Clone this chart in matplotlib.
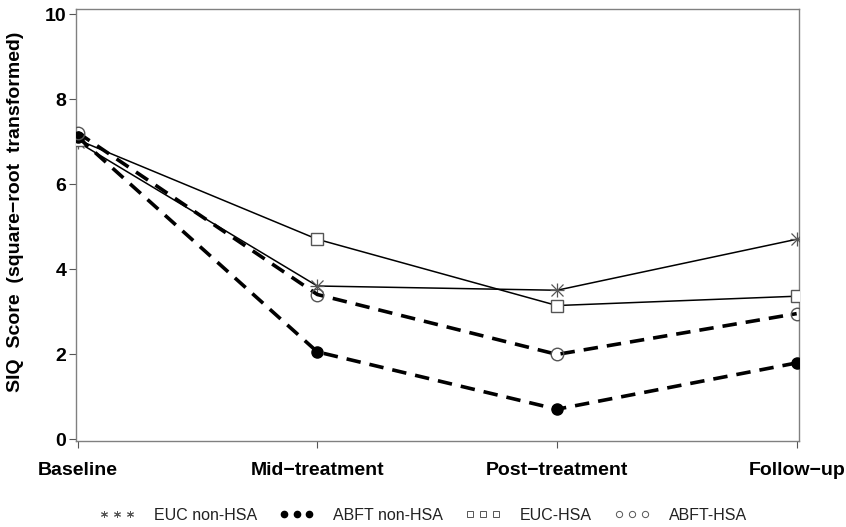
import matplotlib
matplotlib.use('Agg')
import matplotlib.pyplot as plt
from matplotlib.lines import Line2D

# data
timepoints = ['Baseline', 'Mid\u2212treatment', 'Post\u2212treatment', 'Follow\u2212up']
euc_non_hsa = [7.00, 3.61, 3.51, 4.71]
abft_non_hsa = [7.12, 2.06, 0.71, 1.80]
euc_hsa = [7.05, 4.71, 3.15, 3.37]
abft_hsa = [7.22, 3.41, 2.00, 2.96]
yticks = [0, 2, 4, 6, 8, 10]

plt.rcParams['font.family'] = ['Liberation Sans', 'DejaVu Sans']

fig = plt.figure(figsize=(8.46, 5.27), dpi=100)
ax = fig.add_axes([0.0898, 0.163, 0.855, 0.820])

x = range(len(timepoints))
grey = '#555555'

ax.plot(x, euc_non_hsa, '-', color='black', lw=1.1, marker='x', ms=8,
        mec=grey, mew=0.9, zorder=3)
ax.plot(x, euc_non_hsa, linestyle='none', marker='+', ms=10, mec=grey, mew=0.9, zorder=3)
ax.plot(x, euc_hsa, '-', color='black', lw=1.1, marker='s', ms=9,
        mfc='white', mec=grey, mew=1.0, zorder=3)
ax.plot(x, abft_non_hsa, color='black', lw=2.6, linestyle=(0, (4, 2.5)),
        marker='o', ms=8, mfc='black', mec='black', zorder=4)
ax.plot(x, abft_hsa, color='black', lw=2.6, linestyle=(0, (4, 2.5)),
        marker='o', ms=9, mfc='none', mec=grey, mew=1.0, zorder=4)

ax.set_xlim(-0.007, 3.011)
ax.set_ylim(-0.04, 10.13)
ax.set_xticks(list(x))
ax.set_xticklabels(timepoints, fontsize=14, fontweight='bold')
ax.set_yticks(yticks)
ax.set_yticklabels([str(v) for v in yticks], fontsize=14, fontweight='bold')
ax.tick_params(axis='x', length=5, color=grey, pad=10)
ax.tick_params(axis='y', length=5, color=grey, pad=2)
for s in ax.spines.values():
    s.set_color('#808080')
    s.set_linewidth(1.0)

ax.set_ylabel('SIQ  Score  (square\u2212root  transformed)', fontsize=14,
              fontweight='bold')
ax.yaxis.set_label_coords(-0.072, 0.53)

handles = [
    Line2D([], [], linestyle='none', marker=(6, 2, 0), ms=5, mec=grey, mew=0.7),
    Line2D([], [], linestyle='none', marker='o', ms=4.5, mfc='black', mec='black'),
    Line2D([], [], linestyle='none', marker='s', ms=4.5, mfc='white', mec=grey, mew=0.7),
    Line2D([], [], linestyle='none', marker='o', ms=4.5, mfc='white', mec=grey, mew=0.7),
]
labels = ['EUC non-HSA', 'ABFT non-HSA', 'EUC-HSA', 'ABFT-HSA']
fig.legend(handles, labels, loc='center', bbox_to_anchor=(0.5, 0.022), ncol=4,
           frameon=False, numpoints=3, handlelength=2.2, handletextpad=1.2,
           columnspacing=1.4, fontsize=11.5, labelcolor='#222222')

fig.savefig('out.png', dpi=100)
